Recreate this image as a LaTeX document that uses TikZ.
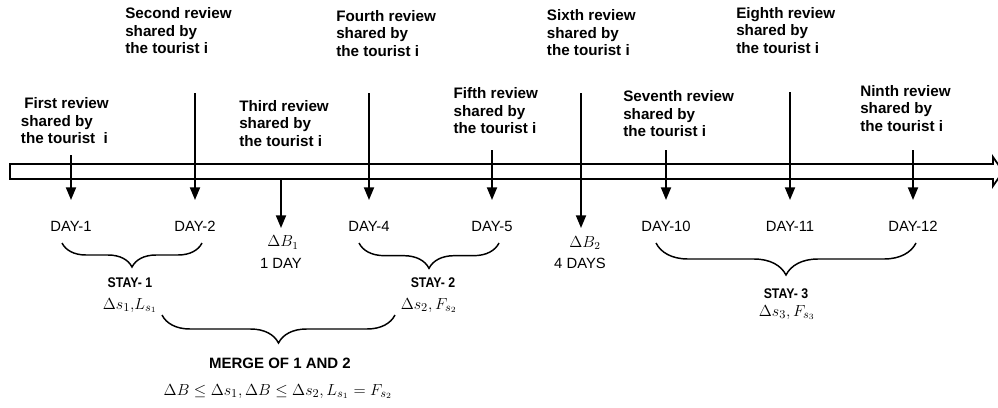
\documentclass[tikz,border=0pt]{standalone}
\usepackage{fontspec}
\setmainfont{Liberation Sans}
\newfontfamily\narrowb[FakeStretch=0.88]{Liberation Sans}
\usetikzlibrary{arrows.meta,decorations.pathreplacing}
\begin{document}
\begin{tikzpicture}[x=0.75pt,y=-0.75pt,
  rev/.style={anchor=north west,align=left,inner sep=0pt,font=\fontsize{11.4}{13.1}\selectfont\bfseries},
  day/.style={anchor=base,inner sep=0pt,font=\fontsize{11.1}{13}\selectfont},
  stay/.style={anchor=base,inner sep=0pt,font=\fontsize{10.5}{12}\narrowb\bfseries},
  mth/.style={anchor=base,inner sep=0pt,font=\fontsize{#1}{14}\selectfont},
  mrg/.style={anchor=base,inner sep=0pt,font=\fontsize{11.25}{13}\selectfont\bfseries},
  arr/.style={line width=1.4pt,-{Triangle[length=9.5pt,width=7.5pt]}},
  brc/.style={line width=1.1pt,decorate,decoration={brace,mirror,amplitude=#1}},
  bar/.style={line width=1.3pt,line join=miter},
]
\useasboundingbox (0,0) rectangle (998,407);

% timeline bar
\draw[bar] (10,164) -- (993,164) -- (993,157) -- (1003,171.5) -- (993,186) -- (993,179) -- (10,179) -- cycle;

% review labels
\node[rev] (r1) at (20.7,97.3) {\hspace*{2.5pt}First review\\shared by\\the tourist\ \ i};
\node[rev] (r2) at (125,7.3) {Second review\\shared by\\the tourist i};
\node[rev] (r3) at (239,100) {Third review\\shared by\\the tourist i};
\node[rev] (r4) at (336,10) {Fourth review\\shared by\\the tourist i};
\node[rev] (r5) at (453.3,87.3) {Fifth review\\shared by\\the tourist i};
\node[rev] (r6) at (546.7,9.3) {Sixth review\\shared by\\the tourist i};
\node[rev] (r7) at (623,90.7) {Seventh review\\shared by\\the tourist i};
\node[rev] (r8) at (736,7) {Eighth review\\shared by\\the tourist i};
\node[rev] (r9) at (860,85) {Ninth review\\shared by\\the tourist i};

% day labels
\node[day] (d1) at (71,231.5) {DAY-1};
\node[day] (d2) at (195,231.5) {DAY-2};
\node[day] (d4) at (369,231.5) {DAY-4};
\node[day] (d5) at (492,231.5) {DAY-5};
\node[day] (d10) at (666,231.5) {DAY-10};
\node[day] (d11) at (790,231.5) {DAY-11};
\node[day] (d12) at (913,231.5) {DAY-12};

% breaks
\node[mth=11.5] (db1) at (283,246.7) {$\Delta B_1$};
\node[day] (db1d) at (281,268) {1 DAY};
\node[mth=11.5] (db2) at (585,247.5) {$\Delta B_2$};
\node[day] (db2d) at (580,268) {4 DAYS};

% arrows
\coordinate (a1) at (71,155);  \coordinate (e1) at (71,200);
\coordinate (a2) at (195,93);  \coordinate (e2) at (195,200);
\coordinate (a3) at (281,179); \coordinate (e3) at (281,228);
\coordinate (a4) at (369,93);  \coordinate (e4) at (369,200);
\coordinate (a5) at (492,150); \coordinate (e5) at (492,200);
\coordinate (a6) at (581,93);  \coordinate (e6) at (581,228);
\coordinate (a7) at (666,150); \coordinate (e7) at (666,200);
\coordinate (a8) at (790,92);  \coordinate (e8) at (790,200);
\coordinate (a9) at (913,150); \coordinate (e9) at (913,200);
\foreach \i in {1,...,9} {\draw[arr] (a\i) -- (e\i);}

% braces
\draw[brc=18pt] (62,243) -- (202,243);
\draw[brc=19pt] (359,243) -- (499,243);
\draw[brc=24pt] (656,243) -- (916,243);
\draw[brc=21pt] (162,315) -- (395,315);

% stays
\node[stay] (st1) at (130,287.3) {STAY- 1};
\node[mth=12.6] (m1) at (130,309) {$\Delta s_1,\!L_{s_1}$};
\node[stay] (st2) at (433,287) {STAY- 2};
\node[mth=12.6] (m2) at (429,309) {$\Delta s_2, F_{s_2}$};
\node[stay] (st3) at (786,298.5) {STAY- 3};
\node[mth=12.6] (m3) at (787,316) {$\Delta s_3, F_{s_3}$};

% merge
\node[mrg] (mg) at (280,368.3) {MERGE OF 1 AND 2};
\node[mth=12.6] (mgf) at (278,395) {$\Delta B \le \Delta s_1, \Delta B \le \Delta s_2, L_{s_1} = F_{s_2}$};
\end{tikzpicture}
\end{document}
